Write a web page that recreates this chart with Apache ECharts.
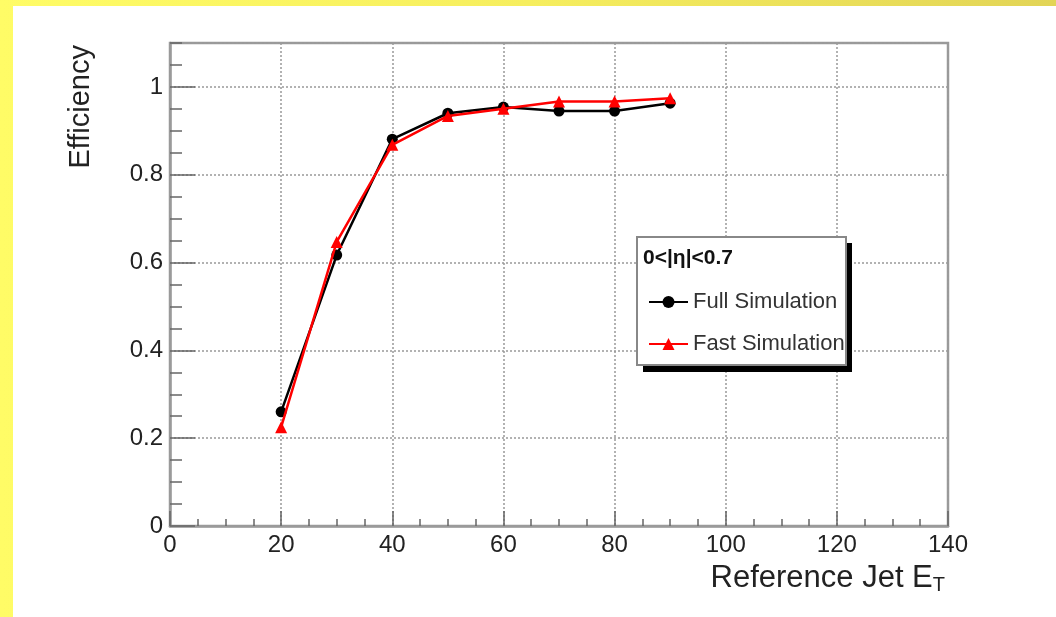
<!DOCTYPE html>
<html>
<head>
<meta charset="utf-8">
<script src="https://cdn.jsdelivr.net/npm/echarts@6/dist/echarts.min.js"></script>
<style>
html,body{margin:0;padding:0;}
#wrap{position:relative;width:1056px;height:617px;overflow:hidden;
  background:linear-gradient(90deg,#fffc66 0%,#f6ee5e 50%,#e2d456 100%);}
#paper{position:absolute;left:13px;top:6px;right:0;bottom:0;background:#fff;}
#chart{position:absolute;left:0;top:0;width:1056px;height:617px;}
</style>
</head>
<body>
<div id="wrap"><div id="paper"></div><div id="chart"></div></div>
<script>
// ---- data ----
const etValues = [20, 30, 40, 50, 60, 70, 80, 90];
const fullSim = [0.260, 0.617, 0.881, 0.940, 0.954, 0.945, 0.945, 0.963];
const fastSim = [0.225, 0.647, 0.868, 0.934, 0.950, 0.967, 0.967, 0.974];
const seriesNames = ['Full Simulation', 'Fast Simulation'];
const legendTitle = '0<|\u03B7|<0.7';
const xTitle = 'Reference Jet E';
const yTitle = 'Efficiency';

const FONT = '"Liberation Sans", Arial, Helvetica, sans-serif';
const GRID = {left: 170, right: 108, top: 43, bottom: 91};
const frameColor = '#9a9a9a';
const tickColor = '#666';

const chart = echarts.init(document.getElementById('chart'), null, {renderer: 'canvas'});

const option = {
  animation: false,
  textStyle: {fontFamily: FONT},
  grid: {left: GRID.left, right: GRID.right, top: GRID.top, bottom: GRID.bottom,
         show: true, borderColor: frameColor, borderWidth: 2.5, backgroundColor: 'transparent'},
  xAxis: [{
    type: 'value', min: 0, max: 140, interval: 20,
    name: '{m|' + xTitle + '}{s|T}',
    nameLocation: 'end', nameGap: 0,
    nameTextStyle: {align: 'right', verticalAlign: 'top', padding: [35, 3, 0, 0],
      rich: {m: {fontSize: 31, color: '#222', fontFamily: FONT},
             s: {fontSize: 20, color: '#222', fontFamily: FONT, padding: [14, 0, 0, 0]}}},
    axisLine: {show: true, lineStyle: {color: frameColor, width: 2.5}},
    axisTick: {show: true, inside: true, length: 15, lineStyle: {color: tickColor, width: 1.5}},
    axisLabel: {fontSize: 24, color: '#222', margin: 7, fontFamily: FONT},
    splitLine: {show: true, lineStyle: {color: '#999', width: 1.5, type: [2, 2]}}
  }, {
    type: 'value', min: 0, max: 140, interval: 5, position: 'bottom',
    axisLine: {show: false},
    axisTick: {show: true, inside: true, length: 7, lineStyle: {color: tickColor, width: 1.5}},
    axisLabel: {show: false}, splitLine: {show: false}
  }],
  yAxis: [{
    type: 'value', min: 0, max: 1.1, interval: 0.2,
    name: yTitle, nameLocation: 'end', nameRotate: 90, nameGap: -2,
    nameTextStyle: {fontSize: 29, color: '#222', align: 'right', verticalAlign: 'bottom',
      padding: [0, 0, 75, 0], fontFamily: FONT},
    axisLine: {show: true, lineStyle: {color: frameColor, width: 2.5}},
    axisTick: {show: true, inside: true, length: 25, lineStyle: {color: tickColor, width: 1.5}},
    axisLabel: {fontSize: 24, color: '#222', margin: 7, showMaxLabel: false, fontFamily: FONT},
    splitLine: {show: true, lineStyle: {color: '#999', width: 1.5, type: [2, 2]}}
  }, {
    type: 'value', min: 0, max: 1.1, interval: 0.05, position: 'left',
    axisLine: {show: false},
    axisTick: {show: true, inside: true, length: 12, lineStyle: {color: tickColor, width: 1.5}},
    axisLabel: {show: false}, splitLine: {show: false}
  }],
  legend: {
    orient: 'vertical', left: 643, top: 286, z: 10,
    itemWidth: 39, itemHeight: 15, itemGap: 20,
    data: seriesNames,
    textStyle: {fontSize: 22, color: '#333', fontFamily: FONT}
  },
  graphic: [
    {type: 'rect', z: 5, shape: {x: 643, y: 243, width: 209, height: 129}, style: {fill: '#000'}},
    {type: 'rect', z: 6, shape: {x: 637, y: 237, width: 209, height: 128},
     style: {fill: '#fff', stroke: '#888', lineWidth: 2}},
    {type: 'text', z: 7, x: 643, y: 258,
     style: {text: legendTitle, fontSize: 21, fontWeight: 'bold', fill: '#111',
             fontFamily: FONT, textVerticalAlign: 'middle', verticalAlign: 'middle'}}
  ],
  series: [{
    name: seriesNames[0], type: 'line', xAxisIndex: 0, yAxisIndex: 0,
    data: etValues.map((x, i) => [x, fullSim[i]]),
    symbol: 'circle', symbolSize: 11,
    lineStyle: {color: '#000', width: 2.5},
    itemStyle: {color: '#000'}, z: 3
  }, {
    name: seriesNames[1], type: 'line', xAxisIndex: 0, yAxisIndex: 0,
    data: etValues.map((x, i) => [x, fastSim[i]]),
    symbol: 'triangle', symbolSize: 12,
    lineStyle: {color: '#ff0000', width: 2.5},
    itemStyle: {color: '#ff0000'}, z: 4
  }]
};
chart.setOption(option);
</script>
</body>
</html>
